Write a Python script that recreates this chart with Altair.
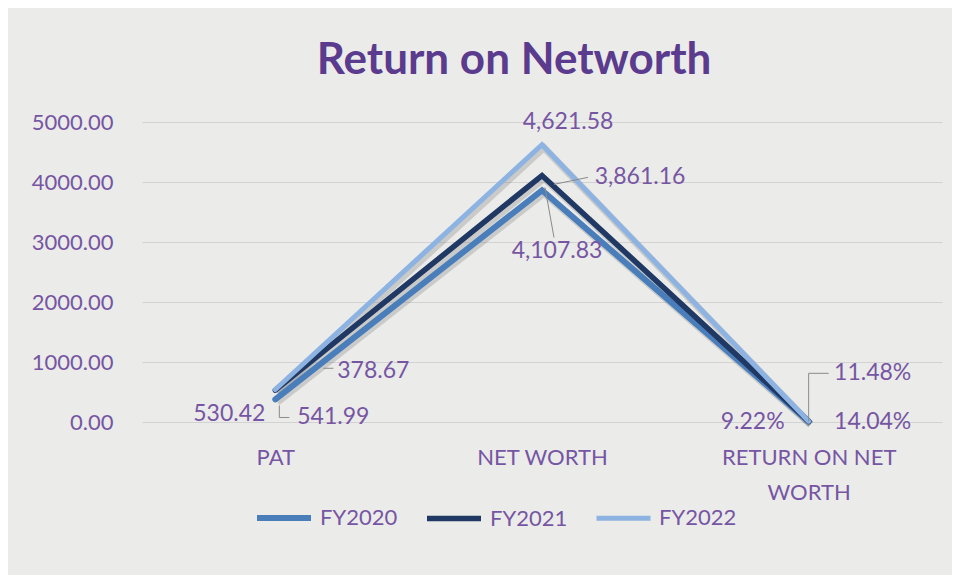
import altair as alt
import pandas as pd

categories = ["PAT", "NET WORTH", "RETURN ON NET WORTH"]
series = ["FY2020", "FY2021", "FY2022"]
fy2020 = [378.67, 3861.16, 9.22]
fy2021 = [530.42, 4107.83, 11.48]
fy2022 = [541.99, 4621.58, 14.04]
y_ticks = [0, 1000, 2000, 3000, 4000, 5000]

colors = ["#4a7ebb", "#1f3864", "#8db3e2"]
widths = [6, 5, 8]

rows = []
for s, vals in zip(series, [fy2020, fy2021, fy2022]):
    for c, v in zip(categories, vals):
        txt = f"{v:.2f}%" if c == "RETURN ON NET WORTH" else f"{v:,.2f}"
        rows.append({"series": s, "category": c, "value": v, "label": txt})
df = pd.DataFrame(rows)

# label placement (pixel offsets), style only
offsets = {
    ("FY2020", "PAT"): (98, -28),
    ("FY2021", "PAT"): (-46, 24),
    ("FY2022", "PAT"): (58, 28),
    ("FY2020", "NET WORTH"): (98, -13),
    ("FY2021", "NET WORTH"): (15, 75),
    ("FY2022", "NET WORTH"): (26, -23),
    ("FY2020", "RETURN ON NET WORTH"): (-56, 1),
    ("FY2021", "RETURN ON NET WORTH"): (64, -48),
    ("FY2022", "RETURN ON NET WORTH"): (64, 1),
}

# leader lines: (series, category, xOffset, yOffset, x2Offset, y2Offset)
leaders = [
    ("FY2021", "RETURN ON NET WORTH", 0, 0, 0, -48),
    ("FY2021", "RETURN ON NET WORTH", 0, -48, 20, -48),
    ("FY2021", "NET WORTH", 3, 12, 12, 62),
    ("FY2020", "NET WORTH", 12, -6, 46, -13),
    ("FY2020", "PAT", 48, -31, 58, -31),
    ("FY2022", "PAT", 4, 16, 4, 28),
    ("FY2022", "PAT", 4, 28, 14, 28),
]

purple = "#7656a3"
font = "Lato"

x_enc = alt.X(
    "category:N",
    sort=categories,
    scale=alt.Scale(type="point", padding=0.5),
    axis=alt.Axis(
        title=None, domain=False, ticks=False, grid=False,
        labelAngle=0, labelFontSize=22, labelColor=purple, labelFont=font,
        labelPadding=25, labelLineHeight=35,
        labelExpr="datum.label == 'RETURN ON NET WORTH' ? ['RETURN ON NET', 'WORTH'] : datum.label",
    ),
)
y_enc = alt.Y(
    "value:Q",
    scale=alt.Scale(domain=[0, 5000], nice=False),
    axis=alt.Axis(
        title=None, domain=False, ticks=False, values=y_ticks, format=".2f",
        labelFontSize=22, labelColor=purple, labelFont=font, labelPadding=29,
        gridColor="#d2d2d2", gridWidth=1,
    ),
)

base = alt.Chart(df)

shadow = base.mark_line(color="#555555", opacity=0.22, strokeWidth=7, yOffset=3, xOffset=2).encode(
    x=x_enc, y=y_enc, detail="series:N"
)

lines = base.mark_line(strokeCap="round", strokeJoin="miter").encode(
    x=x_enc,
    y=y_enc,
    color=alt.Color(
        "series:N",
        scale=alt.Scale(domain=series, range=colors),
        legend=alt.Legend(
            title=None, orient="none", direction="horizontal",
            legendX=112, legendY=366,
            symbolType="stroke", symbolSize=2916, symbolStrokeWidth=6,
            labelFontSize=22, labelColor=purple, labelFont=font,
            columnPadding=18, labelOffset=6,
        ),
    ),
    strokeWidth=alt.StrokeWidth(
        "series:N", scale=alt.Scale(domain=series, range=widths), legend=None
    ),
)

leader_layers = []
for s, c, xo, yo, x2o, y2o in leaders:
    leader_layers.append(
        base.transform_filter(
            (alt.datum.series == s) & (alt.datum.category == c)
        ).mark_rule(
            color="#8a8a8a", strokeWidth=1,
            xOffset=xo, yOffset=yo, x2Offset=x2o, y2Offset=y2o,
        ).encode(x=x_enc, y=y_enc, x2="category:N", y2="value:Q")
    )

text_layers = []
for (s, c), (dx, dy) in offsets.items():
    text_layers.append(
        base.transform_filter(
            (alt.datum.series == s) & (alt.datum.category == c)
        ).mark_text(
            dx=dx, dy=dy, fontSize=23, color=purple, font=font, baseline="middle"
        ).encode(x=x_enc, y=y_enc, text="label:N")
    )

chart = alt.layer(shadow, lines, *leader_layers, *text_layers).properties(
    width=800,
    height=300,
    background="#ebebea",
    padding={"left": 134, "top": 114, "right": 10, "bottom": 153},
    autosize=alt.AutoSizeParams(type="none"),
    title=alt.TitleParams(
        "Return on Networth", fontSize=44, font=font, fontWeight="bold",
        color="#5b3b8e", offset=28, dx=-28, anchor="middle",
    ),
).configure_view(stroke=None)

chart.save("out.html", embed_options={"renderer": "svg", "actions": False})
